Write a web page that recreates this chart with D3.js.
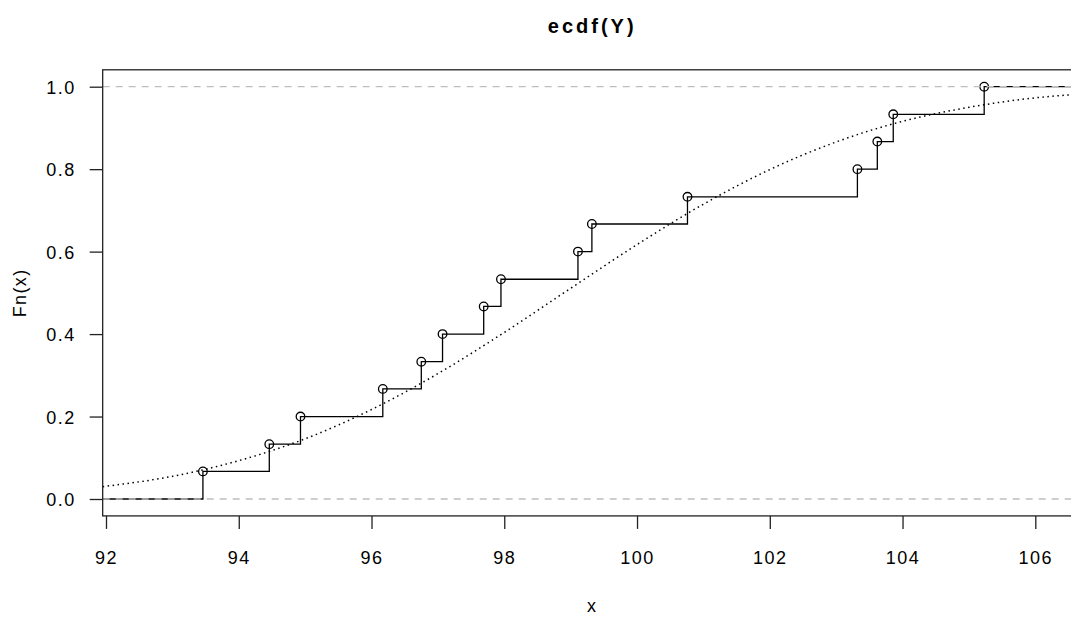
<!DOCTYPE html>
<html>

<head>
    <meta charset="utf-8">
    <style>
        body {
            margin: 0;
            background: #fff;
            overflow: hidden;
        }

        svg {
            font-family: 'Liberation Sans', Arial, sans-serif;
        }

        .tick text {
            font-size: 18px;
            fill: #000;
            letter-spacing: 1.5px;
        }

        .tick line {
            stroke: #222;
        }

        .domain {
            display: none;
        }

        .title {
            font-size: 20px;
            font-weight: bold;
            letter-spacing: 3px;
        }

        .axis-label {
            font-size: 18px;
            letter-spacing: 1.4px;
        }
    </style>
</head>

<body>
    <svg width="1071" height="618"></svg>

    <script src="https://cdn.jsdelivr.net/npm/d3@7"></script>
    <script>
        // sample values where the ecdf jumps
        let jumpX = [93.46, 94.46, 94.93, 96.17, 96.75, 97.07, 97.69, 97.95,
            99.11, 99.32, 100.76, 103.32, 103.62, 103.86, 105.23]
        let jumpFn = [0.067, 0.133, 0.200, 0.267, 0.333, 0.400, 0.467, 0.533,
            0.600, 0.667, 0.733, 0.800, 0.867, 0.933, 1.000]

        // dotted reference curve, read at a few x positions
        let curveX = [91.95, 93, 94, 95, 96, 97, 98, 99, 100, 101, 102, 103, 104, 105, 106, 106.7]
        let curveY = [0.030, 0.055, 0.093, 0.146, 0.217, 0.304, 0.404, 0.511, 0.617,
            0.715, 0.799, 0.866, 0.916, 0.950, 0.973, 0.982]

        let xTicks = [92, 94, 96, 98, 100, 102, 104, 106]
        let yTicks = [0, 0.2, 0.4, 0.6, 0.8, 1.0]
        let xLimits = [91.95, 106.7]
        let yLimits = [-0.041, 1.041]
        let refLines = [0, 1]

        let svg = d3.select("svg")

        let x = d3.scaleLinear()
            .domain([92, 106])
            .range([106, 1035.3])

        let y = d3.scaleLinear()
            .domain([0, 1])
            .range([499, 86.7])

        let plotLeft = x(xLimits[0]), plotRight = x(xLimits[1])
        let plotTop = y(yLimits[1]), plotBottom = y(yLimits[0])

        svg.append("defs").append("clipPath")
            .attr("id", "plot-clip")
            .append("rect")
            .attr("x", plotLeft)
            .attr("y", plotTop)
            .attr("width", plotRight - plotLeft)
            .attr("height", plotBottom - plotTop)

        let plot = svg.append("g").attr("clip-path", "url(#plot-clip)")

        // step function
        let stepData = [[xLimits[0], 0]]
            .concat(jumpX.map((d, i) => [d, jumpFn[i]]))
            .concat([[xLimits[1], 1]])

        let step = d3.line()
            .x(d => x(d[0]))
            .y(d => y(d[1]))
            .curve(d3.curveStepAfter)

        plot.append("path")
            .datum(stepData)
            .attr("fill", "none")
            .attr("stroke", "#000")
            .attr("stroke-width", 1.3)
            .attr("d", step)

        // dotted curve
        let smooth = d3.line()
            .x((d, i) => x(curveX[i]))
            .y(d => y(d))
            .curve(d3.curveMonotoneX)

        plot.append("path")
            .datum(curveY)
            .attr("fill", "none")
            .attr("stroke", "#000")
            .attr("stroke-width", 1.5)
            .attr("stroke-dasharray", "1.5 3.5")
            .attr("d", smooth)

        // points
        plot.append("g")
            .selectAll("circle")
            .data(jumpX)
            .join("circle")
            .attr("cx", d => x(d))
            .attr("cy", (d, i) => y(jumpFn[i]))
            .attr("r", 4.3)
            .attr("fill", "none")
            .attr("stroke", "#000")
            .attr("stroke-width", 1.3)

        // grey dashed lines at 0 and 1 (drawn on top like abline)
        plot.append("g")
            .selectAll("line")
            .data(refLines)
            .join("line")
            .attr("x1", plotLeft)
            .attr("x2", plotRight)
            .attr("y1", d => y(d))
            .attr("y2", d => y(d))
            .attr("stroke", "#bebebe")
            .attr("stroke-width", 1.3)
            .attr("stroke-dasharray", "7 6")

        // axes
        svg.append("g")
            .attr("class", "x axis")
            .attr("transform", `translate(0,${plotBottom})`)
            .call(d3.axisBottom(x)
                .tickValues(xTicks)
                .tickSize(13)
                .tickPadding(22)
                .tickFormat(d3.format("d")))
            .call(g => g.selectAll(".tick line").attr("stroke-width", 1.3))

        svg.append("g")
            .attr("class", "y axis")
            .attr("transform", `translate(${plotLeft},0)`)
            .call(d3.axisLeft(y)
                .tickValues(yTicks)
                .tickSize(13)
                .tickPadding(14)
                .tickFormat(d3.format(".1f")))
            .call(g => g.selectAll(".tick line").attr("stroke-width", 1.3))
            .call(g => g.selectAll(".tick text").attr("dy", "0.36em"))

        // box
        svg.append("rect")
            .attr("x", plotLeft)
            .attr("y", plotTop)
            .attr("width", plotRight - plotLeft)
            .attr("height", plotBottom - plotTop)
            .attr("fill", "none")
            .attr("stroke", "#222")
            .attr("stroke-width", 1.3)

        // labels
        svg.append("text")
            .attr("class", "title")
            .attr("x", (plotLeft + plotRight) / 2)
            .attr("y", 33)
            .attr("text-anchor", "middle")
            .text("ecdf(Y)")

        svg.append("text")
            .attr("class", "axis-label")
            .attr("x", (plotLeft + plotRight) / 2)
            .attr("y", 612)
            .attr("text-anchor", "middle")
            .text("x")

        svg.append("text")
            .attr("class", "axis-label")
            .attr("transform", `translate(26,${(plotTop + plotBottom) / 2}) rotate(-90)`)
            .attr("text-anchor", "middle")
            .text("Fn(x)")
    </script>
</body>

</html>
